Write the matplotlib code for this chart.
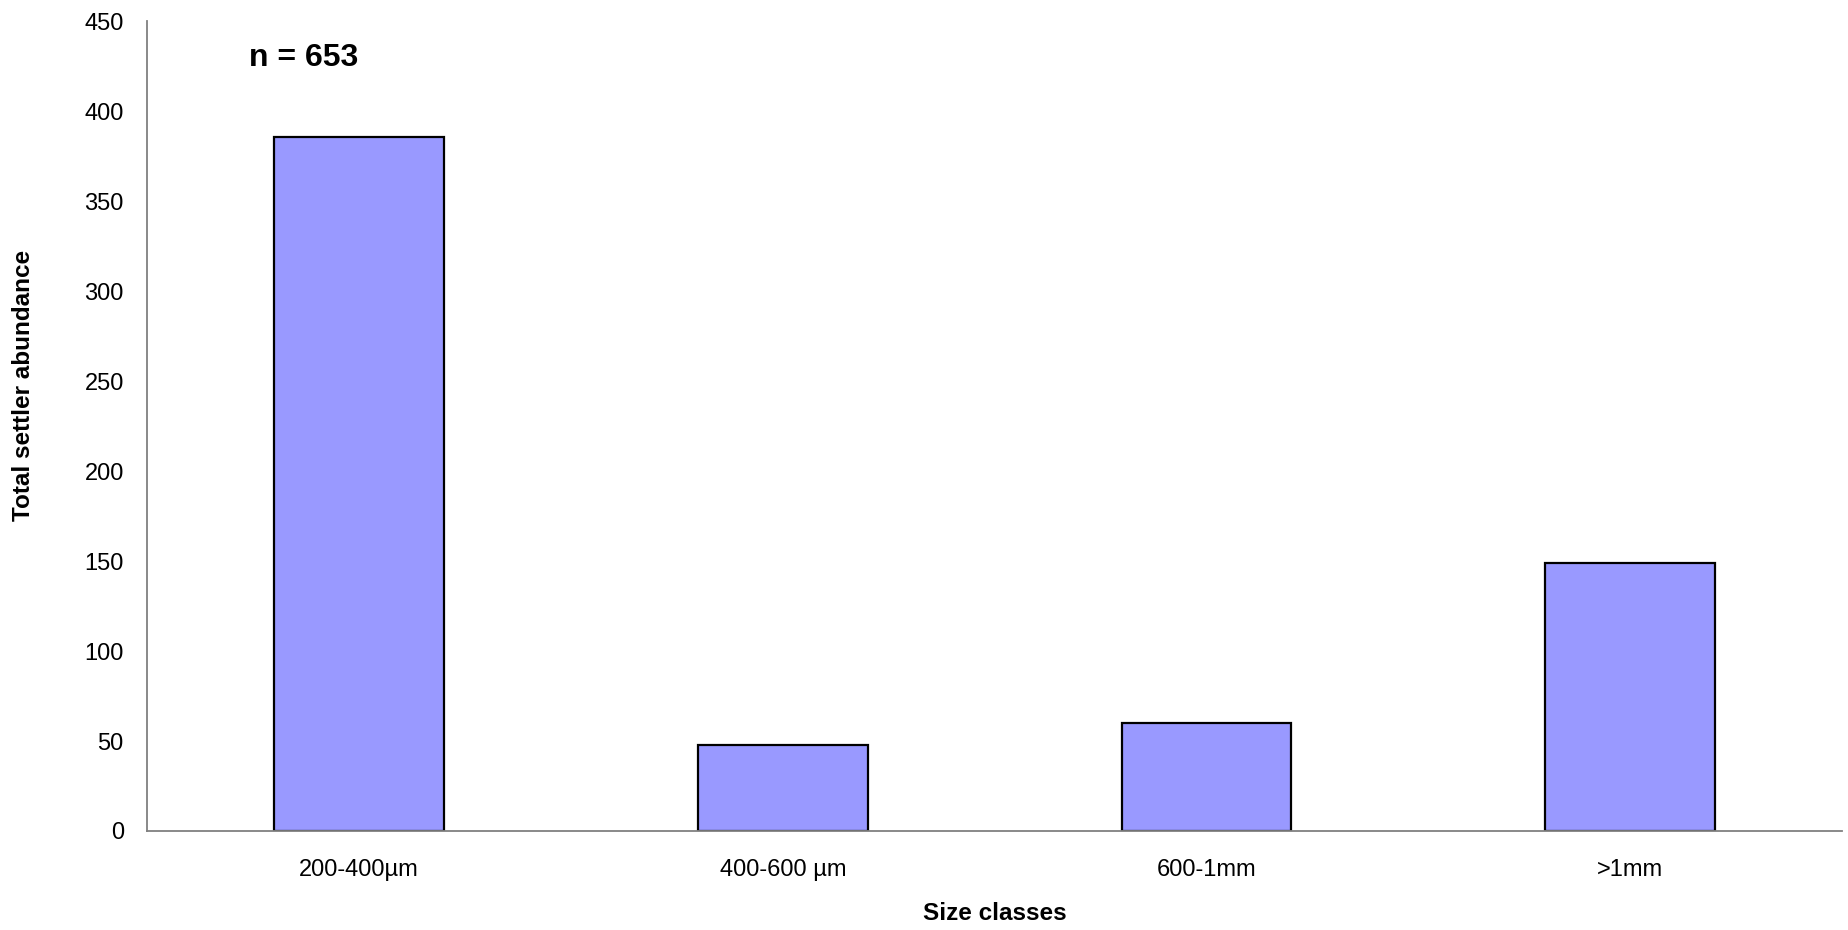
import matplotlib
matplotlib.use("Agg")
import matplotlib.pyplot as plt

size_classes = ["200-400µm", "400-600 µm", "600-1mm", ">1mm"]
abundance = [386, 48, 60, 149]
n_total = 653

plt.rcParams["font.family"] = ["Liberation Sans", "DejaVu Sans"]

fig = plt.figure(figsize=(18.49, 9.30), dpi=100)
ax = fig.add_axes([0.0797, 0.1065, 0.9165, 0.8705])

x = range(len(size_classes))
ax.bar(x, abundance, width=0.4, color="#9999FF", edgecolor="black", linewidth=1.6)

ax.set_xlim(-0.5, len(size_classes) - 0.5)
ax.set_ylim(0, 450)
ax.set_yticks(range(0, 451, 50))
ax.set_xticks(list(x))
ax.set_xticklabels(size_classes)
ax.tick_params(axis="x", length=0, pad=20, labelsize=17)
ax.tick_params(axis="y", length=0, pad=17, labelsize=17)

for side in ("top", "right"):
    ax.spines[side].set_visible(False)
for side in ("left", "bottom"):
    ax.spines[side].set_color("#808080")
    ax.spines[side].set_linewidth(1.3)

ax.set_xlabel("Size classes", fontsize=17.5, fontweight="bold")
ax.xaxis.set_label_coords(0.5, -0.0877)
ax.set_ylabel("Total settler abundance", fontsize=17.5, fontweight="bold")
ax.yaxis.set_label_coords(-0.0663, 0.55)

ax.text(0.06, 0.955, f"n = {n_total}", transform=ax.transAxes,
        fontsize=23, fontweight="bold", va="center", ha="left")

fig.savefig("out.png", dpi=100)
